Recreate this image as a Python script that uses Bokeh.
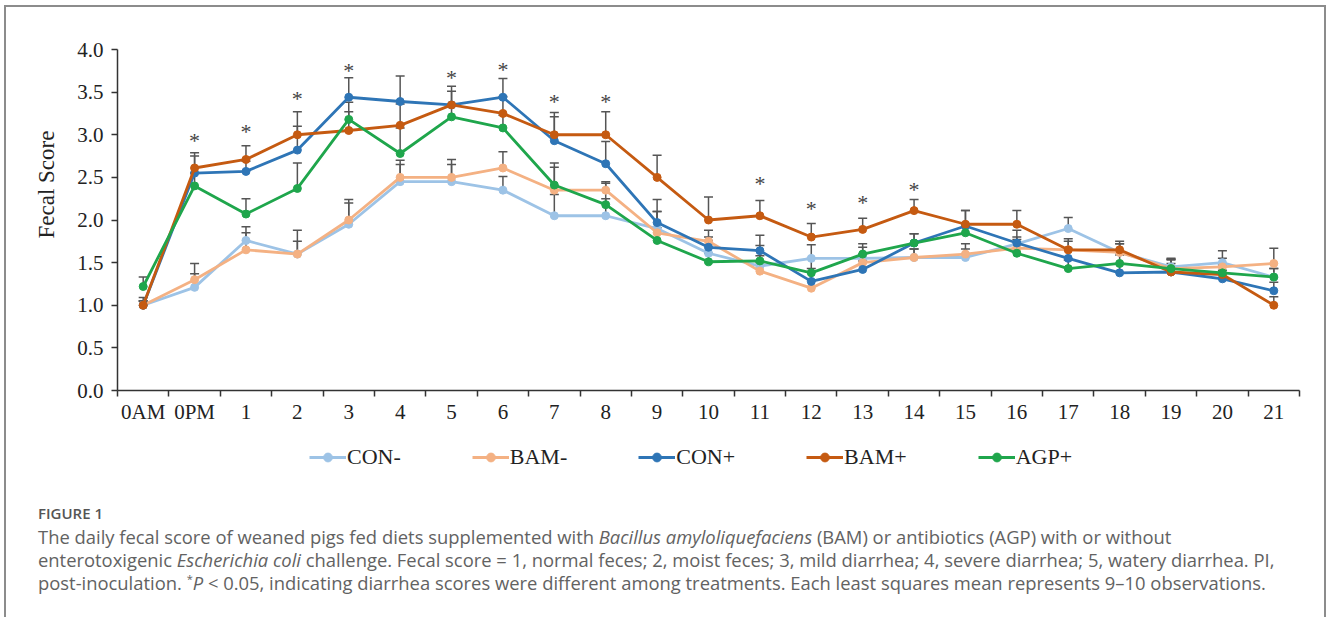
from bokeh.plotting import figure
from bokeh.models import (ColumnDataSource, Whisker, TeeHead, FixedTicker, Legend,
                          LegendItem, Title, Div, Spacer, PrintfTickFormatter)
from bokeh.layouts import column, row
from bokeh.core.properties import value
from bokeh.embed import file_html
from bokeh.resources import INLINE

# ---------------- data ----------------
categories = ["0AM", "0PM", "1", "2", "3", "4", "5", "6", "7", "8", "9", "10",
              "11", "12", "13", "14", "15", "16", "17", "18", "19", "20", "21"]

con_neg = [1.00, 1.21, 1.76, 1.60, 1.95, 2.45, 2.45, 2.35, 2.05, 2.05, 1.90, 1.61,
           1.46, 1.55, 1.55, 1.56, 1.56, 1.72, 1.90, 1.62, 1.45, 1.50, 1.33]
bam_neg = [1.00, 1.30, 1.65, 1.60, 2.00, 2.50, 2.50, 2.61, 2.35, 2.35, 1.85, 1.75,
           1.40, 1.20, 1.50, 1.56, 1.60, 1.67, 1.65, 1.62, 1.43, 1.45, 1.49]
con_pos = [1.00, 2.55, 2.57, 2.82, 3.44, 3.39, 3.35, 3.44, 2.93, 2.66, 1.97, 1.68,
           1.64, 1.28, 1.42, 1.73, 1.93, 1.73, 1.55, 1.38, 1.39, 1.31, 1.17]
bam_pos = [1.00, 2.61, 2.71, 3.00, 3.05, 3.11, 3.35, 3.25, 3.00, 3.00, 2.50, 2.00,
           2.05, 1.80, 1.89, 2.11, 1.95, 1.95, 1.65, 1.65, 1.39, 1.36, 1.00]
agp_pos = [1.22, 2.40, 2.07, 2.37, 3.18, 2.78, 3.21, 3.08, 2.41, 2.18, 1.76, 1.51,
           1.52, 1.38, 1.60, 1.73, 1.85, 1.61, 1.43, 1.49, 1.43, 1.38, 1.33]

# upper standard errors
err_con_neg = [0.05, 0.16, 0.16, 0.28, 0.25, 0.20, 0.20, 0.16, 0.25, 0.20, 0.20, 0.15,
               0.12, 0.16, 0.13, 0.10, 0.10, 0.08, 0.13, 0.10, 0.10, 0.14, 0.10]
err_bam_neg = [0.05, 0.19, 0.20, 0.15, 0.24, 0.20, 0.21, 0.19, 0.27, 0.10, 0.25, 0.05,
               0.10, 0.10, 0.10, 0.10, 0.12, 0.10, 0.10, 0.10, 0.11, 0.10, 0.18]
err_con_pos = [0.05, 0.20, 0.12, 0.28, 0.23, 0.30, 0.22, 0.22, 0.28, 0.26, 0.27, 0.20,
               0.18, 0.15, 0.10, 0.11, 0.18, 0.15, 0.12, 0.10, 0.10, 0.10, 0.10]
err_bam_pos = [0.09, 0.18, 0.16, 0.27, 0.22, 0.25, 0.16, 0.20, 0.26, 0.27, 0.26, 0.27,
               0.18, 0.16, 0.13, 0.13, 0.16, 0.16, 0.13, 0.10, 0.15, 0.10, 0.10]
err_agp_pos = [0.11, 0.15, 0.18, 0.30, 0.20, 0.30, 0.15, 0.15, 0.26, 0.25, 0.15, 0.10,
               0.18, 0.17, 0.12, 0.11, 0.10, 0.10, 0.10, 0.10, 0.10, 0.10, 0.10]

series_names = ["CON-", "BAM-", "CON+", "BAM+", "AGP+"]
series_vals = [con_neg, bam_neg, con_pos, bam_pos, agp_pos]
series_errs = [err_con_neg, err_bam_neg, err_con_pos, err_bam_pos, err_agp_pos]
series_colors = ["#9dc3e6", "#f4b183", "#2e75b6", "#c55a11", "#1fa64c"]

sig_days = ["0PM", "1", "2", "3", "5", "6", "7", "8", "11", "12", "13", "14"]
star_y = [2.98, 3.08, 3.47, 3.80, 3.72, 3.81, 3.44, 3.44, 2.47, 2.18, 2.25, 2.40]

y_ticks = [0.0, 0.5, 1.0, 1.5, 2.0, 2.5, 3.0, 3.5, 4.0]

# ---------------- main figure ----------------
SERIF = "Liberation Serif"
xs = list(range(len(categories)))

p = figure(width=1318, height=423, x_range=(-0.5, len(categories) - 0.5), y_range=(0, 4),
           output_backend="svg", toolbar_location=None,
           min_border_left=111, min_border_right=25, min_border_top=42, min_border_bottom=40)
p.outline_line_color = None
p.xgrid.visible = False
p.ygrid.visible = False
p.background_fill_color = "white"
p.border_fill_color = "white"

# x axis: labels at category centres, ticks at category boundaries
p.xaxis.ticker = FixedTicker(ticks=xs, minor_ticks=[i - 0.5 for i in range(len(categories) + 1)])
p.xaxis.major_label_overrides = {i: c for i, c in enumerate(categories)}
p.xaxis.major_tick_out = 0
p.xaxis.major_tick_in = 0
p.xaxis.minor_tick_out = 6
p.xaxis.minor_tick_in = 0
p.xaxis.minor_tick_line_color = "#333333"
p.xaxis.minor_tick_line_width = 1.5
p.xaxis.major_label_standoff = 3

p.yaxis.ticker = FixedTicker(ticks=y_ticks)
p.yaxis.formatter = PrintfTickFormatter(format="%.1f")
p.yaxis.major_tick_out = 6
p.yaxis.major_tick_in = 0
p.yaxis.minor_tick_line_color = None
p.yaxis.major_tick_line_width = 1.5
p.yaxis.major_tick_line_color = "#333333"
p.yaxis.major_label_standoff = 8

for ax in (p.xaxis, p.yaxis):
    ax.axis_line_color = "#333333"
    ax.axis_line_width = 1.5
    ax.major_label_text_font = SERIF
    ax.major_label_text_font_size = "21px"
    ax.major_label_text_color = "#222222"

p.add_layout(Title(text="Fecal Score", align="left", offset=152, standoff=31,
                   text_font=SERIF, text_font_size="23px", text_font_style="normal",
                   text_color="#222222"), "left")

# error bars
for vals, errs in zip(series_vals, series_errs):
    src = ColumnDataSource(dict(x=xs, lo=vals, hi=[v + e for v, e in zip(vals, errs)]))
    w = Whisker(base="x", lower="lo", upper="hi", source=src, dimension="height",
                line_color="#555555", line_width=1.5,
                upper_head=TeeHead(size=9, line_color="#555555", line_width=1.5),
                lower_head=None)
    p.add_layout(w)

for name, vals, col in zip(series_names, series_vals, series_colors):
    p.line(xs, vals, line_color=col, line_width=2.8)
    p.scatter(xs, vals, marker="circle", size=8, fill_color=col, line_color=col)

# significance stars
star_x = [categories.index(d) for d in sig_days]
p.text(x=star_x, y=star_y, text=["*"] * len(star_x), text_align="center",
       text_baseline="middle", y_offset=4, text_font=value(SERIF),
       text_font_size="22px", text_color="#444444")

# ---------------- legend strip (separate figure, same series styles) ----------------
lg = figure(width=1318, height=60, x_range=(-0.5, len(categories) - 0.5), y_range=(10, 11),
            output_backend="svg", toolbar_location=None,
            x_axis_location=None, y_axis_location=None,
            min_border_left=0, min_border_right=0, min_border_top=0, min_border_bottom=0)
lg.outline_line_color = None
lg.xgrid.visible = False
lg.ygrid.visible = False
items = []
for name, vals, col in zip(series_names, series_vals, series_colors):
    lr = lg.line(xs, vals, line_color=col, line_width=3)
    sr = lg.scatter(xs, vals, marker="circle", size=7, fill_color=col, line_color=col)
    items.append(LegendItem(label=name, renderers=[lr, sr]))

legend = Legend(items=items, orientation="horizontal", location=(192, 20),
                glyph_width=37, glyph_height=22, label_height=22, label_standoff=1,
                spacing=71, padding=0, margin=0, border_line_color=None,
                background_fill_alpha=0, label_text_font=SERIF,
                label_text_font_size="22px", label_text_color="#222222")
lg.add_layout(legend)

# ---------------- caption ----------------
cap_html = (
    "<div style=\"padding:11.5px 0 0 32px; font-family:'Open Sans'; color:#626262; "
    "line-height:23px; white-space:nowrap;\">"
    "<div style=\"font-size:15px; font-weight:600; color:#555555;\">FIGURE 1</div>"
    "<div style=\"font-size:18.4px;\">"
    "The daily fecal score of weaned pigs fed diets supplemented with "
    "<i>Bacillus amyloliquefaciens</i> (BAM) or antibiotics (AGP) with or without<br>"
    "enterotoxigenic <i>Escherichia coli</i> challenge. Fecal score = 1, normal feces; "
    "2, moist feces; 3, mild diarrhea; 4, severe diarrhea; 5, watery diarrhea. PI,<br>"
    "post-inoculation. <sup style=\"font-size:11px; line-height:0;\">*</sup><i>P</i> &lt; 0.05, indicating "
    "diarrhea scores were different among treatments. Each least squares mean "
    "represents 9\u201310 observations."
    "</div></div>"
)
cap = Div(text=cap_html, width=1318, height=127, margin=0)

BORDER = "#8c8c8c"
layout = column(
    Spacer(width=1328, height=5, margin=0),
    row(Spacer(width=4, height=2, margin=0),
        Div(text="", width=1322, height=2, margin=0, styles={"background-color": BORDER})),
    row(Spacer(width=4, height=610, margin=0),
        Div(text="", width=2, height=610, margin=0, styles={"background-color": BORDER}),
        column(p, lg, cap),
        Div(text="", width=2, height=610, margin=0, styles={"background-color": BORDER})),
)

open("out.html", "w").write(file_html(layout, INLINE))
